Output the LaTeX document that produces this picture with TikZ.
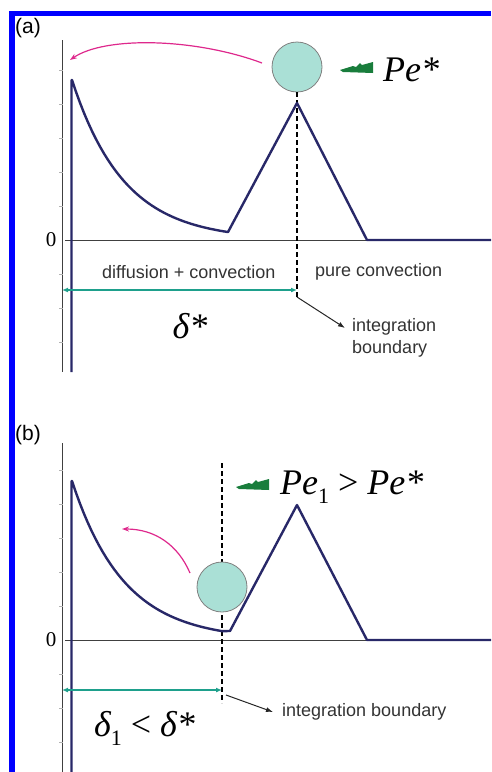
\documentclass[tikz,border=0pt]{standalone}
\usepackage{fontspec}
\setmainfont{Liberation Serif}
\setsansfont{Liberation Sans}
\usetikzlibrary{arrows.meta}

\definecolor{curvenavy}{RGB}{40,40,104}
\definecolor{spanteal}{RGB}{30,160,140}
\definecolor{beadfill}{RGB}{170,224,214}
\definecolor{flowpink}{RGB}{222,40,140}
\definecolor{boltgreen}{RGB}{25,125,60}
\definecolor{frameblue}{RGB}{0,0,255}

\tikzset{
  profile/.style={curvenavy, line width=2.4pt, line join=round},
  axisline/.style={black!75, line width=0.8pt},
  tickline/.style={black!30, line width=0.5pt},
  bead/.style={circle, draw=black!50, fill=beadfill, minimum size=50pt, inner sep=0pt, line width=0.8pt},
  boundline/.style={black, line width=1.3pt, dash pattern=on 5pt off 3pt},
  span/.style={spanteal, line width=1.6pt, {Latex[length=6pt,width=5pt]}-{Latex[length=6pt,width=5pt]}},
  pointer/.style={black!85, line width=1pt, -{Latex[length=7pt,width=5pt]}},
  swirl/.style={flowpink, line width=1.2pt, -{Stealth[length=7pt,width=5pt]}},
  lbl/.style={font=\sffamily\fontsize{18}{22}\selectfont, text=black!80, inner sep=0pt},
  tag/.style={font=\sffamily\fontsize{21}{21}\selectfont, inner sep=0pt},
  zero/.style={font=\fontsize{21}{21}\selectfont, inner sep=0pt},
  big/.style={font=\fontsize{36}{40}\selectfont, inner sep=0pt},
  bolt/.pic={
    \fill[boltgreen] (0,0) -- (13,-4) -- (16,-3) -- (20,-7) -- (22,-5) -- (33,-8)
      -- (33,3) -- (3,2) -- cycle;
  },
}

\begin{document}
\begin{tikzpicture}[x=1pt, y=-1pt]
    \useasboundingbox (0,0) rectangle (491,772);
    % blue frame
    \fill[frameblue] (9,11) rectangle (491,16);
    \fill[frameblue] (9,11) rectangle (15,772);

    % ---- (a) ----
    \node[tag, anchor=west] (tagA) at (15,28) {(a)};
    \draw[axisline] (62.5,40) -- (62.5,372);
    \foreach \t in {70,104,138,172,206,274,308,342}
        \draw[tickline] (59,\t) -- (62.5,\t);
    \draw[axisline] (65,240) -- (491,240);
    \node[zero] (zeroA) at (51,240) {0};

    \node[bead] (beadA) at (297,67) {};
    \coordinate (bndA) at (297,297);
    \draw[boundline] (beadA.south) -- (bndA);
    \draw[profile] (71.5,372) -- (71.5,80)
        -- plot[domain=72:228, samples=40] (\x, {240-160*exp(-(\x-72)/52)})
        -- (297,103) -- (367,240) -- (491,240);

    \coordinate (fromA) at (262,63);
    \coordinate (toA) at (70,60);
    \draw[swirl] (fromA) .. controls (195,38) and (105,36) .. (toA);

    \pic at (340,70) {bolt};
    \node[big, anchor=west] (peA) at (383,70) {\itshape Pe*};

    \node[lbl, anchor=west] (mixA) at (102,272) {diffusion + convection};
    \node[lbl, anchor=west] (pureA) at (315,272) {pure convection};
    \coordinate (wallA) at (62,290);
    \coordinate (spanA) at (297,290);
    \draw[span] (wallA) -- (spanA);
    \node[big] (deltaA) at (190,326) {\itshape δ*};

    \node[lbl, anchor=west, align=left] (intA) at (352,338) {integration\\boundary};
    \coordinate (tipA) at (345,328);
    \draw[pointer] (bndA) -- (tipA);

    % ---- (b) ----
    \node[tag, anchor=west] (tagB) at (15,435) {(b)};
    \draw[axisline] (62.5,443) -- (62.5,772);
    \foreach \t in {470,504,538,572,606,674,708,742}
        \draw[tickline] (59,\t) -- (62.5,\t);
    \draw[axisline] (65,640) -- (491,640);
    \node[zero] (zeroB) at (51,640) {0};

    \coordinate (topB) at (222,463);
    \coordinate (bndB) at (222,703);
    \draw[boundline] (topB) -- (bndB);
    \draw[profile] (71.5,772) -- (71.5,481)
        -- plot[domain=72:222, samples=40] (\x, {640-159*exp(-(\x-72)/52)})
        -- (230,631) -- (297,505) -- (367,640) -- (491,640);
    \node[bead] (beadB) at (222,587) {};

    \coordinate (fromB) at (190,573);
    \coordinate (toB) at (122,529);
    \draw[swirl] (fromB) .. controls (178,545) and (155,529) .. (toB);

    \pic at (236,487) {bolt};
    \node[big, anchor=west] (peB) at (280,487)
        {\itshape Pe\upshape\raisebox{-0.25em}{\fontsize{22}{22}\selectfont 1} > \itshape Pe*};

    \coordinate (wallB) at (62,690);
    \coordinate (spanB) at (222,690);
    \draw[span] (wallB) -- (spanB);
    \node[big, anchor=west] (deltaB) at (94,728)
        {\itshape δ\upshape\raisebox{-0.25em}{\fontsize{22}{22}\selectfont 1}\ < \itshape δ*};

    \node[lbl, anchor=west] (intB) at (282,712) {integration boundary};
    \coordinate (tipB) at (273,712);
    \draw[pointer] (226,695) coordinate (offB) -- (tipB);
\end{tikzpicture}
\end{document}
